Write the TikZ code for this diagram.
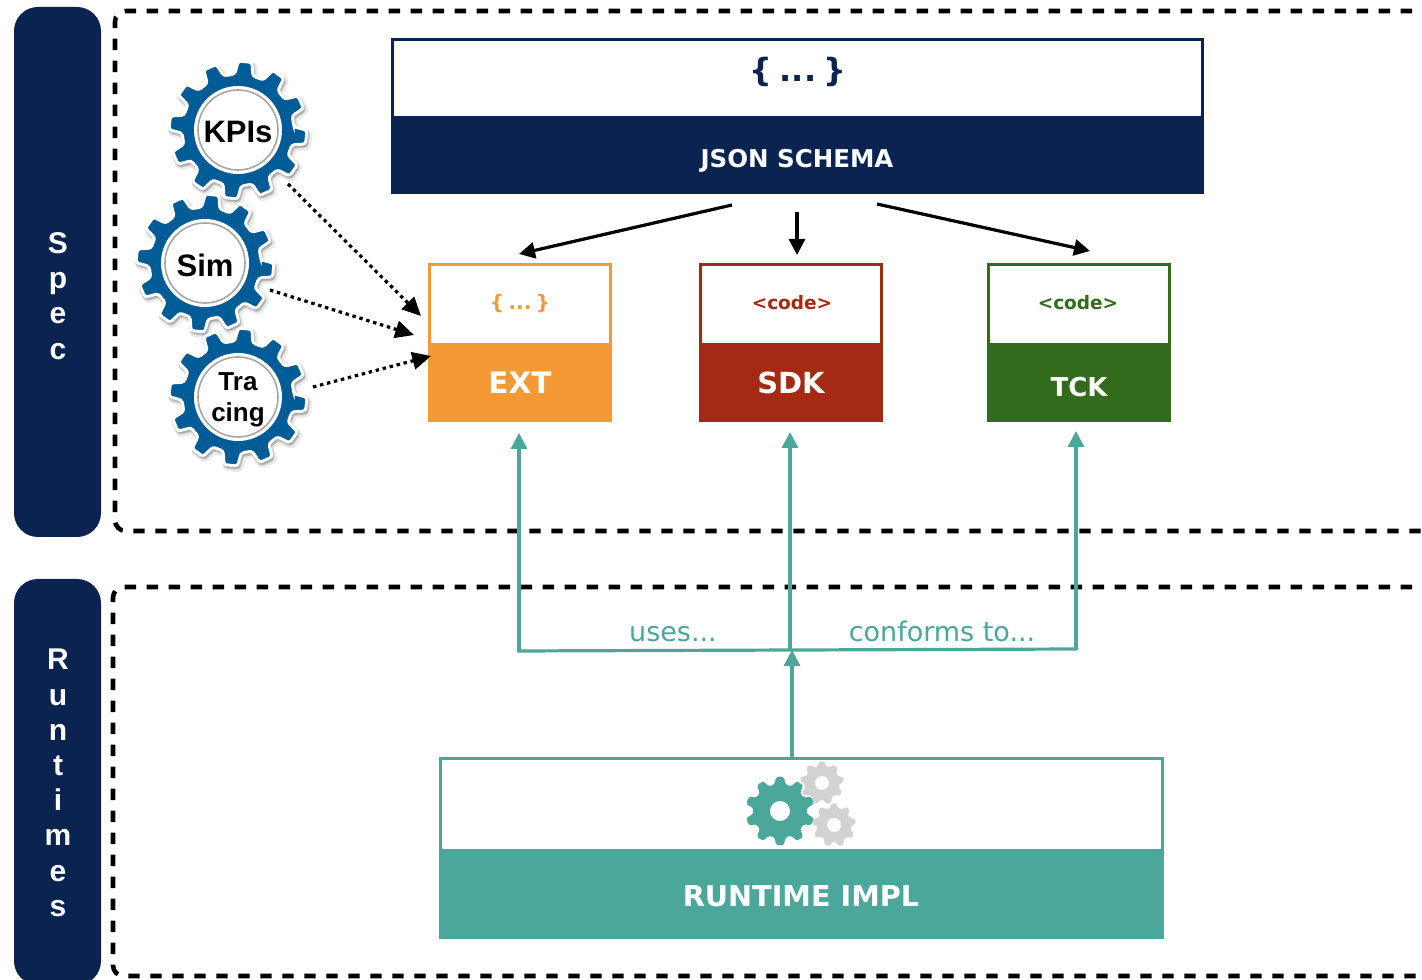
\documentclass[tikz,border=0pt]{standalone}
\usepackage{fontspec}
\setmainfont{DejaVu Sans}
\newfontfamily\gearfont{Liberation Sans}
\usetikzlibrary{arrows.meta}
\definecolor{navy}{HTML}{0A2351}
\definecolor{gearblue}{HTML}{005C97}
\definecolor{extc}{HTML}{F39A36}
\definecolor{sdkc}{HTML}{A52A14}
\definecolor{tckc}{HTML}{336B1C}
\definecolor{rtc}{HTML}{4CA79B}
\definecolor{gearg}{HTML}{D2D2D2}
\def\px{*0.75pt}
\newcommand\fs[1]{\pgfmathsetmacro\fsa{#1*0.75}\pgfmathsetmacro\fsb{#1*0.9}\fontsize{\fsa}{\fsb}\selectfont}
\newcommand\gearp[7]{%
  \path[#1,shift={(#2,#3)},rounded corners=2pt]
    ({#7-360/#4*0.31}:#6)
    \foreach \k in {1,...,#4}{
      -- ({#7+(\k-1)*360/#4-360/#4*0.31}:#6)
      -- ({#7+(\k-1)*360/#4-360/#4*0.19}:#5)
      -- ({#7+(\k-1)*360/#4+360/#4*0.19}:#5)
      -- ({#7+(\k-1)*360/#4+360/#4*0.31}:#6)
    } -- cycle;}
\newcommand\biggear[2]{%
  \gearp{fill=black,fill opacity=.08,draw=black,draw opacity=.08,line width=5pt}{#1+2}{#2+3}{12}{69}{56}{6}
  \gearp{fill=black,fill opacity=.16,draw=black,draw opacity=.16,line width=3pt}{#1+1}{#2+2}{12}{69}{56}{6}
  \gearp{fill=gearblue,draw=white,line width=2.2pt}{#1}{#2}{12}{69}{56}{6}
  \fill[white] (#1,#2) circle (44);
  \draw[black!35,line width=1.2pt] (#1,#2) circle (40);}
\tikzset{
  outer/.style={draw=black,line width=3.4pt,dash pattern=on 8.5pt off 8pt,rounded corners=8pt},
  band/.style={fill=navy,rounded corners=18pt},
  bandtxt/.style={text=white,align=center,inner sep=0pt,font=\gearfont\bfseries\fontsize{22.5}{26.4}\selectfont},
  topbox/.style={draw=#1,fill=white,line width=2.6pt,inner sep=0pt,outer sep=0pt},
  botbox/.style={fill=#1,draw=#1,line width=1pt,inner sep=0pt,outer sep=0pt,text=white,font=\bfseries},
  arr/.style={black,line width=2.4pt,-{Triangle[length=12pt,width=12pt]}},
  dotarr/.style={black,line width=2.4pt,dash pattern=on 2.6pt off 2.8pt,-{Triangle[length=14pt,width=13pt]}},
  tealarr/.style={rtc,line width=2.4pt,-{Triangle[length=12pt,width=12pt]}},
  tealln/.style={rtc,line width=2.4pt},
  hub/.style={inner sep=0pt,align=center,font=\gearfont\bfseries\fs{31}},
  hubtwo/.style={hub,font=\gearfont\bfseries\fs{26}},
  tealtxt/.style={text=rtc,font=\fs{27},inner sep=0pt,anchor=base},
}
\begin{document}
\begin{tikzpicture}[x=0.75pt,y=-0.75pt]
\useasboundingbox (0,0) rectangle (1422,980);
\fill[white] (0,0) rectangle (1422,980);
\clip (0,0) rectangle (1422,980);

% frames and side bands
\draw[outer] (1500,11) -- (115,11) -- (115,531) -- (1500,531);
\draw[outer] (1500,587) -- (113,587) -- (113,976) -- (1500,976);
\fill[band] (14,7) rectangle (101,537);
\fill[band] (14,579) rectangle (101,985);
\node[bandtxt] (spec) at (58,296) {S\\p\\e\\c};
\node[bandtxt] (runtimes) at (58,783) {R\\u\\n\\t\\i\\m\\e\\s};

% JSON schema
\node[topbox=navy,minimum width=810\px,minimum height=78\px,anchor=north west] (jsonT) at (392.5,39.5) {};
\node[botbox=navy,minimum width=812\px,minimum height=76\px,anchor=north west] (jsonB) at (391.5,117) {};
\node[text=white,font=\bfseries\fs{24.5},inner sep=0pt] (jsonL) at (797,161) {JSON SCHEMA};
\node[text=navy,font=\bfseries\fs{32},inner sep=0pt] (jsont) at (798,72) {\{\hspace{.22em}...\hspace{.22em}\}};

% EXT SDK TCK
\node[topbox=extc,minimum width=181\px,minimum height=80\px,anchor=north west] (extT) at (429.5,264.5) {};
\node[botbox=extc,minimum width=183\px,minimum height=78\px,anchor=north west] (extB) at (428.5,343.5) {\fs{29.5}EXT};
\node[text=extc,font=\bfseries\fs{20},inner sep=0pt] (extt) at (520,304) {\{\hspace{.22em}...\hspace{.22em}\}};
\node[topbox=sdkc,minimum width=181\px,minimum height=80\px,anchor=north west] (sdkT) at (700.5,264.5) {};
\node[botbox=sdkc,minimum width=183\px,minimum height=78\px,anchor=north west] (sdkB) at (699.5,343.5) {\fs{29}SDK};
\node[text=sdkc,font=\bfseries\fs{18.5},inner sep=0pt] (sdkt) at (792,303) {<code>};
\node[topbox=tckc,minimum width=181\px,minimum height=80\px,anchor=north west] (tckT) at (988.5,264.5) {};
\node[botbox=tckc,minimum width=183\px,minimum height=78\px,anchor=north west] (tckB) at (987.5,343.5) {};
\node[text=white,font=\bfseries\fs{26},inner sep=0pt] (tckL) at (1079,387) {TCK};
\node[text=tckc,font=\bfseries\fs{18.5},inner sep=0pt] (tckt) at (1078,303) {<code>};

% Runtime
\node[topbox=rtc,minimum width=722\px,minimum height=92\px,anchor=north west] (rtT) at (440.5,758.5) {};
\node[botbox=rtc,minimum width=724\px,minimum height=89\px,anchor=north west] (rtB) at (439.5,849.5) {};
\node[text=white,font=\bfseries\fs{28.7},inner sep=0pt] (rtL) at (801,896) {RUNTIME IMPL};
\gearp{fill=gearg}{822}{783}{9}{22}{17}{-90}
\gearp{fill=gearg}{834}{825}{9}{22}{17}{-90}
\gearp{fill=rtc}{780}{811}{10}{34.5}{27}{-90}
\fill[white] (822,783) circle (7);
\fill[white] (834,825) circle (7);
\fill[white] (780,811) circle (10);

% gears
\biggear{238}{130}
\biggear{205}{263}
\biggear{238}{397}
\node[hub] (kpi) at (238,132) {KPIs};
\node[hub] (sim) at (205,265) {Sim};
\node[hubtwo] (trc) at (238,400) {Tra\\cing};

% coordinates for free ends
\coordinate (ja) at (732,205); \coordinate (jat) at (519,254);
\coordinate (jb) at (797,212); \coordinate (jbt) at (797,255);
\coordinate (jc) at (877,204); \coordinate (jct) at (1090,251);
\coordinate (ka) at (288,184); \coordinate (kat) at (421,316);
\coordinate (sa) at (270,290); \coordinate (sat) at (414,335);
\coordinate (ta) at (313,387); \coordinate (tat) at (431,356);
\coordinate (busL) at (517,651); \coordinate (busR) at (1077,649);
\coordinate (sEx) at (519,651); \coordinate (tEx) at (519,433);
\coordinate (sSd) at (790,650); \coordinate (tSd) at (790,432);
\coordinate (sTc) at (1076,650); \coordinate (tTc) at (1076,431);
\coordinate (rtop) at (792,758); \coordinate (bus) at (792,650);

\draw[arr] (ja) -- (jat);
\draw[arr] (jb) -- (jbt);
\draw[arr] (jc) -- (jct);
\draw[dotarr] (ka) -- (kat);
\draw[dotarr] (sa) -- (sat);
\draw[dotarr] (ta) -- (tat);
\draw[tealln] (busL) -- (busR);
\draw[tealarr] (sEx) -- (tEx);
\draw[tealarr] (sSd) -- (tSd);
\draw[tealarr] (sTc) -- (tTc);
\draw[tealarr] (rtop) -- (bus);
\node[tealtxt] (uses) at (673,641) {uses...};
\node[tealtxt] (conf) at (942,641) {conforms to...};
\end{tikzpicture}
\end{document}
